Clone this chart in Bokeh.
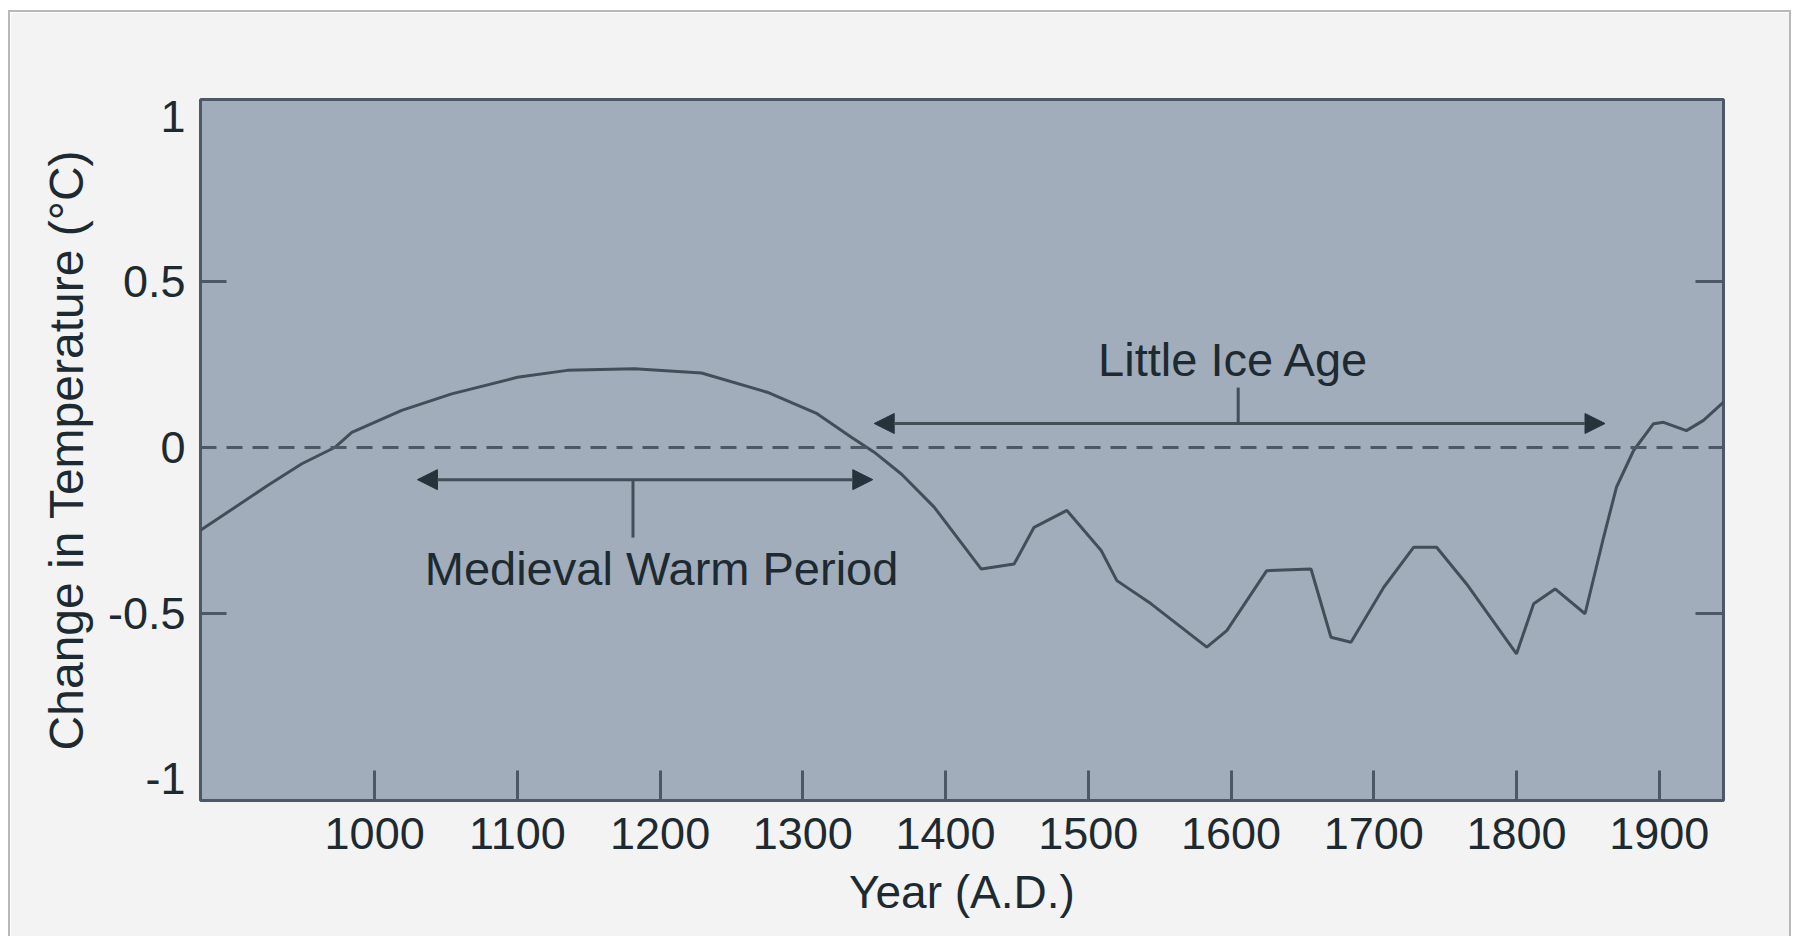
from bokeh.plotting import figure
from bokeh.models import Range1d, FixedTicker, LinearAxis, Label, Arrow, NormalHead, Span
from bokeh.embed import file_html
from bokeh.resources import INLINE

# ---- data ----
years = [878, 925, 949, 972, 984, 1019, 1054, 1100, 1135, 1182, 1229, 1275, 1310,
         1334, 1350, 1369, 1392, 1425, 1448, 1462, 1485, 1509, 1520, 1544, 1583,
         1597, 1625, 1656, 1670, 1684, 1707, 1728, 1744, 1765, 1800, 1812, 1827,
         1848, 1861, 1870, 1882, 1896, 1903, 1919, 1931, 1945]
temps = [-0.25, -0.115, -0.049, 0.0, 0.046, 0.112, 0.162, 0.212, 0.233, 0.238,
         0.225, 0.167, 0.102, 0.031, -0.014, -0.08, -0.18, -0.367, -0.352, -0.241,
         -0.19, -0.311, -0.402, -0.472, -0.603, -0.553, -0.372, -0.367, -0.573,
         -0.588, -0.422, -0.301, -0.301, -0.412, -0.623, -0.472, -0.427, -0.502,
         -0.271, -0.12, -0.009, 0.072, 0.076, 0.051, 0.082, 0.137]

x_ticks = [1000, 1100, 1200, 1300, 1400, 1500, 1600, 1700, 1800, 1900]
y_ticks = [-1, -0.5, 0, 0.5, 1]
y_tick_labels = ["-1", "-0.5", "0", "0.5", "1"]
y_marks = [-0.5, 0.5]

mwp_years = [1030, 1349]
mwp_level = -0.097
mwp_stem = [1181, -0.097, -0.272]
mwp_text = "Medieval Warm Period"

lia_years = [1350, 1862]
lia_level = 0.0725
lia_stem = [1605, 0.0725, 0.181]
lia_text = "Little Ice Age"

x_title = "Year (A.D.)"
y_title = "Change in Temperature (°C)"

# ---- styling ----
FONT = "Liberation Sans"
INK = "#1d2a31"
LINE = "#434e59"
FRAME = "#4d5866"

p = figure(width=1783, height=926,
           x_range=Range1d(878, 1945), y_range=Range1d(-1.066, 1.051),
           output_backend="svg", toolbar_location=None,
           min_border_left=190, min_border_right=70,
           min_border_top=87, min_border_bottom=138)
p.styles = {"margin-left": "8px", "margin-top": "10px",
            "border-left": "2px solid #b7b9b9", "border-top": "2px solid #b7b9b9",
            "border-right": "2px solid #b7b9b9"}

p.background_fill_color = "#a1adba"
p.border_fill_color = "#f2f3f2"
p.outline_line_color = FRAME
p.outline_line_width = 3
p.grid.visible = False

# x axis
xa = p.xaxis[0]
xa.ticker = FixedTicker(ticks=x_ticks)
xa.axis_line_color = None
xa.major_tick_in = 30
xa.major_tick_out = 0
xa.major_tick_line_color = FRAME
xa.major_tick_line_width = 3
xa.minor_tick_line_color = None
xa.minor_tick_out = 0
xa.major_label_text_font = FONT
xa.major_label_text_font_size = "45px"
xa.major_label_text_color = INK
xa.major_label_standoff = 17
xa.axis_label = x_title
xa.axis_label_text_font = FONT
xa.axis_label_text_font_size = "46px"
xa.axis_label_text_font_style = "normal"
xa.axis_label_text_color = INK
xa.axis_label_standoff = 14

# y axis (left)
ya = p.yaxis[0]
ya.ticker = FixedTicker(ticks=y_ticks, minor_ticks=y_marks)
ya.major_label_overrides = {t: s for t, s in zip(y_ticks, y_tick_labels)}
ya.axis_line_color = None
ya.major_tick_line_color = None
ya.major_tick_out = 0
ya.major_tick_in = 0
ya.minor_tick_in = 26
ya.minor_tick_out = 0
ya.minor_tick_line_color = FRAME
ya.minor_tick_line_width = 3
ya.major_label_text_font = FONT
ya.major_label_text_font_size = "45px"
ya.major_label_text_color = INK
ya.major_label_standoff = 15
ya.axis_label = y_title
ya.axis_label_text_font = FONT
ya.axis_label_text_font_size = "48px"
ya.axis_label_text_font_style = "normal"
ya.axis_label_text_color = INK
ya.axis_label_standoff = 12

# y axis (right, marks only)
ra = LinearAxis(ticker=FixedTicker(ticks=[], minor_ticks=y_marks))
ra.axis_line_color = None
ra.major_tick_line_color = None
ra.major_tick_out = 0
ra.major_label_text_font_size = "0px"
ra.minor_tick_in = 28
ra.minor_tick_out = 0
ra.minor_tick_line_color = FRAME
ra.minor_tick_line_width = 3
p.add_layout(ra, "right")

# zero line
p.add_layout(Span(location=0, dimension="width", line_color=FRAME,
                  line_width=3, line_dash="16 10"))

# temperature curve
p.line(years, temps, line_color=LINE, line_width=3)

# annotation arrows
def head():
    return NormalHead(size=20, fill_color="#26333b", line_color="#26333b", line_width=1)

p.add_layout(Arrow(start=head(), end=head(),
                   x_start=mwp_years[0], y_start=mwp_level,
                   x_end=mwp_years[1], y_end=mwp_level,
                   line_color=LINE, line_width=3))
p.add_layout(Arrow(start=head(), end=head(),
                   x_start=lia_years[0], y_start=lia_level,
                   x_end=lia_years[1], y_end=lia_level,
                   line_color=LINE, line_width=3))
p.segment(x0=[mwp_stem[0], lia_stem[0]], y0=[mwp_stem[1], lia_stem[1]],
          x1=[mwp_stem[0], lia_stem[0]], y1=[mwp_stem[2], lia_stem[2]],
          line_color=LINE, line_width=3)

p.add_layout(Label(x=1201, y=-0.365, text=mwp_text, text_align="center",
                   text_baseline="alphabetic", text_font=FONT,
                   text_font_size="47px", text_color=INK))
p.add_layout(Label(x=1602, y=0.267, text=lia_text, text_align="center",
                   text_baseline="alphabetic", text_font=FONT,
                   text_font_size="47px", text_color=INK))

open("out.html", "w").write(file_html(p, INLINE))
